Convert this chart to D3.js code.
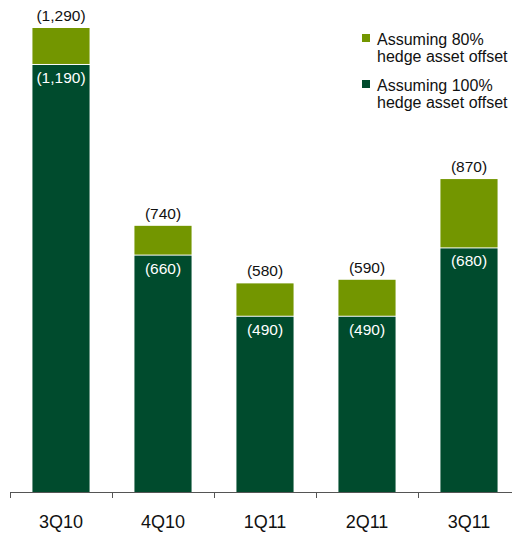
<!DOCTYPE html>
<html>
<head>
<meta charset="utf-8">
<script src="https://cdn.jsdelivr.net/npm/d3@7"></script>
<style>
  html, body { margin: 0; padding: 0; background: #fff; }
  svg { display: block; font-family: "Liberation Sans", Arial, sans-serif; }
</style>
</head>
<body>
<svg id="chart" width="512" height="533"></svg>
<script>
const quarters = ["3Q10", "4Q10", "1Q11", "2Q11", "3Q11"];
const fullOffset = [1190, 660, 490, 490, 680];      // assuming 100% hedge asset offset
const partialOffset = [1290, 740, 580, 590, 870];   // assuming 80% hedge asset offset
const legendLabels = [
  ["Assuming 80%", "hedge asset offset"],
  ["Assuming 100%", "hedge asset offset"]
];

const colors = { light: "#739600", dark: "#004b2d" };
const fmt = v => "(" + d3.format(",")(v) + ")";

const svg = d3.select("#chart");
const baseY = 492;

const x = d3.scaleBand().domain(quarters).range([10, 520]).paddingInner(0.44).paddingOuter(0.22);
const y = d3.scaleLinear().domain([0, 1290]).range([baseY, 28]);

const g = svg.append("g");

// light (80%) segment spans from the 100% value up to the 80% value
g.selectAll("rect.top").data(quarters).join("rect")
  .attr("x", d => x(d))
  .attr("width", x.bandwidth())
  .attr("y", (d, i) => y(partialOffset[i]))
  .attr("height", (d, i) => y(fullOffset[i]) - y(partialOffset[i]))
  .attr("fill", colors.light);

g.selectAll("rect.bottom").data(quarters).join("rect")
  .attr("x", d => x(d))
  .attr("width", x.bandwidth())
  .attr("y", (d, i) => y(fullOffset[i]) + 1)
  .attr("height", (d, i) => baseY - y(fullOffset[i]) - 1)
  .attr("fill", colors.dark);

// value labels
g.selectAll("text.total").data(quarters).join("text")
  .attr("x", d => x(d) + x.bandwidth() / 2)
  .attr("y", (d, i) => y(partialOffset[i]) - 7)
  .attr("text-anchor", "middle")
  .attr("font-size", 15.5)
  .attr("fill", "#111")
  .text((d, i) => fmt(partialOffset[i]));

g.selectAll("text.inner").data(quarters).join("text")
  .attr("x", d => x(d) + x.bandwidth() / 2)
  .attr("y", (d, i) => y(fullOffset[i]) + 19)
  .attr("text-anchor", "middle")
  .attr("font-size", 15.5)
  .attr("fill", "#fff")
  .text((d, i) => fmt(fullOffset[i]));

// category axis
const axisG = svg.append("g").attr("transform", `translate(0,${baseY})`);
axisG.append("line").attr("x1", 10).attr("x2", 512).attr("y1", 0.5).attr("y2", 0.5)
  .attr("stroke", "#555").attr("stroke-width", 1);
const gap = (x.step() - x.bandwidth()) / 2;
axisG.selectAll("line.tick").data(quarters).join("line")
  .attr("x1", d => Math.round(x(d) - gap) + 0.5)
  .attr("x2", d => Math.round(x(d) - gap) + 0.5)
  .attr("y1", 0).attr("y2", 6)
  .attr("stroke", "#555");
axisG.selectAll("text").data(quarters).join("text")
  .attr("x", d => x(d) + x.bandwidth() / 2)
  .attr("y", 36)
  .attr("text-anchor", "middle")
  .attr("font-size", 18)
  .attr("fill", "#111")
  .text(d => d);

// legend
const legend = svg.append("g");
[colors.light, colors.dark].forEach((c, i) => {
  const ly = 34 + i * 46;
  legend.append("rect").attr("x", 362).attr("y", ly).attr("width", 8).attr("height", 8).attr("fill", c);
  legendLabels[i].forEach((t, j) => {
    legend.append("text").attr("x", 377).attr("y", ly + 11 + j * 17)
      .attr("font-size", 16).attr("fill", "#111").text(t);
  });
});
</script>
</body>
</html>
